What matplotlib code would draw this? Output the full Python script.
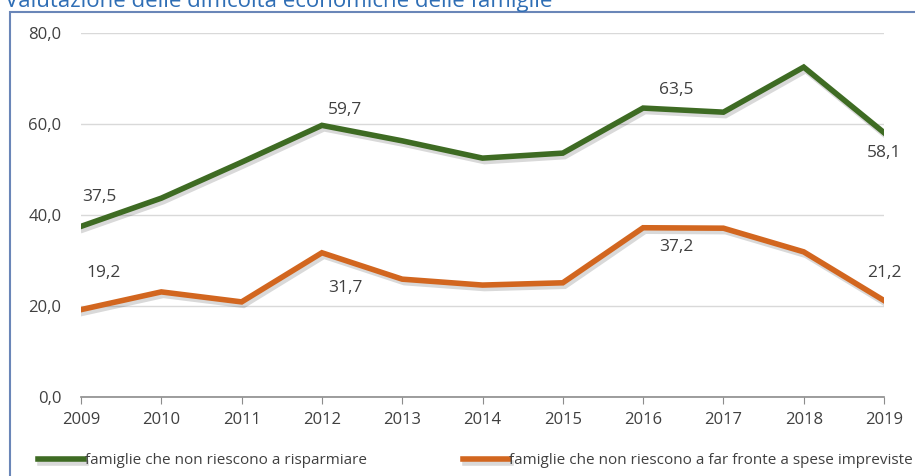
import matplotlib.pyplot as plt
import matplotlib.patheffects as pe
from matplotlib.patches import Rectangle

plt.rcParams['font.family'] = ['Open Sans', 'DejaVu Sans']

anni = [2009, 2010, 2011, 2012, 2013, 2014, 2015, 2016, 2017, 2018, 2019]
risparmiare = [37.5, 43.7, 51.6, 59.7, 56.3, 52.5, 53.6, 63.5, 62.6, 72.5, 58.1]
spese_impreviste = [19.2, 23.1, 20.9, 31.7, 25.9, 24.6, 25.1, 37.2, 37.1, 31.9, 21.2]
nomi = ['famiglie che non riescono a risparmiare',
        'famiglie che non riescono a far fronte a spese impreviste']
colori = ['#3e6b23', '#d2661f']

# etichette (anno, serie, offset in pixel)
etichette = [
    (2009, 0, 18, 29), (2012, 0, 23, 15), (2016, 0, 33, 18), (2019, 0, 0, -20),
    (2009, 1, 23, 37), (2012, 1, 23, -35), (2016, 1, 33, -19), (2019, 1, 0, 28),
]

fig = plt.figure(figsize=(9.15, 4.76), dpi=100)
ax = fig.add_axes([81/915, 1 - 397/476, (884 - 81)/915, (397 - 33)/476])

shadow = [pe.SimpleLineShadow(offset=(1.5, -2.5), alpha=0.15, shadow_color='black'),
          pe.Normal()]
serie = [risparmiare, spese_impreviste]
for vals, col, nome in zip(serie, colori, nomi):
    ax.plot(anni, vals, color=col, lw=4, label=nome, solid_joinstyle='miter',
            path_effects=shadow)

for anno, s, dx, dy in etichette:
    v = serie[s][anni.index(anno)]
    ax.annotate(f'{v:.1f}'.replace('.', ','), (anno, v), xytext=(dx, dy),
                textcoords='offset pixels', ha='center', va='center',
                fontsize=12.5, color='#404040')

ax.set_xlim(2009, 2019)
ax.set_ylim(0, 80)
ax.set_xticks(anni)
ax.set_yticks([0, 20, 40, 60, 80])
ax.set_yticklabels([f'{t:.1f}'.replace('.', ',') for t in [0, 20, 40, 60, 80]])
ax.grid(axis='y', color='#d9d9d9', lw=1)
ax.set_axisbelow(True)
for s in ['top', 'right', 'left']:
    ax.spines[s].set_visible(False)
ax.spines['bottom'].set_color('#8c8c8c')
ax.spines['bottom'].set_linewidth(1.2)
ax.tick_params(axis='y', length=0, pad=14, labelsize=12, labelcolor='#404040')
ax.tick_params(axis='x', length=5, color='#8c8c8c', pad=6, labelsize=12,
               labelcolor='#404040')

fig.legend(loc='center left', bbox_to_anchor=(38/915, 1 - 461/476), ncol=2,
           frameon=False, fontsize=11, handlelength=3.0, handletextpad=0.05,
           columnspacing=6.3, labelcolor='#404040', borderaxespad=0, borderpad=0)

fig.patches.append(Rectangle((10/915, -0.1), 1.2, 0.1 + 1 - 12/476,
                             transform=fig.transFigure, fill=False,
                             edgecolor='#6a86b8', lw=1.5))
fig.text(5/915, 1 - 7/476, 'Valutazione delle difficoltà economiche delle famiglie',
         fontsize=16, color='#2f6eb5', va='baseline', ha='left')

fig.savefig('out.png', dpi=100)
